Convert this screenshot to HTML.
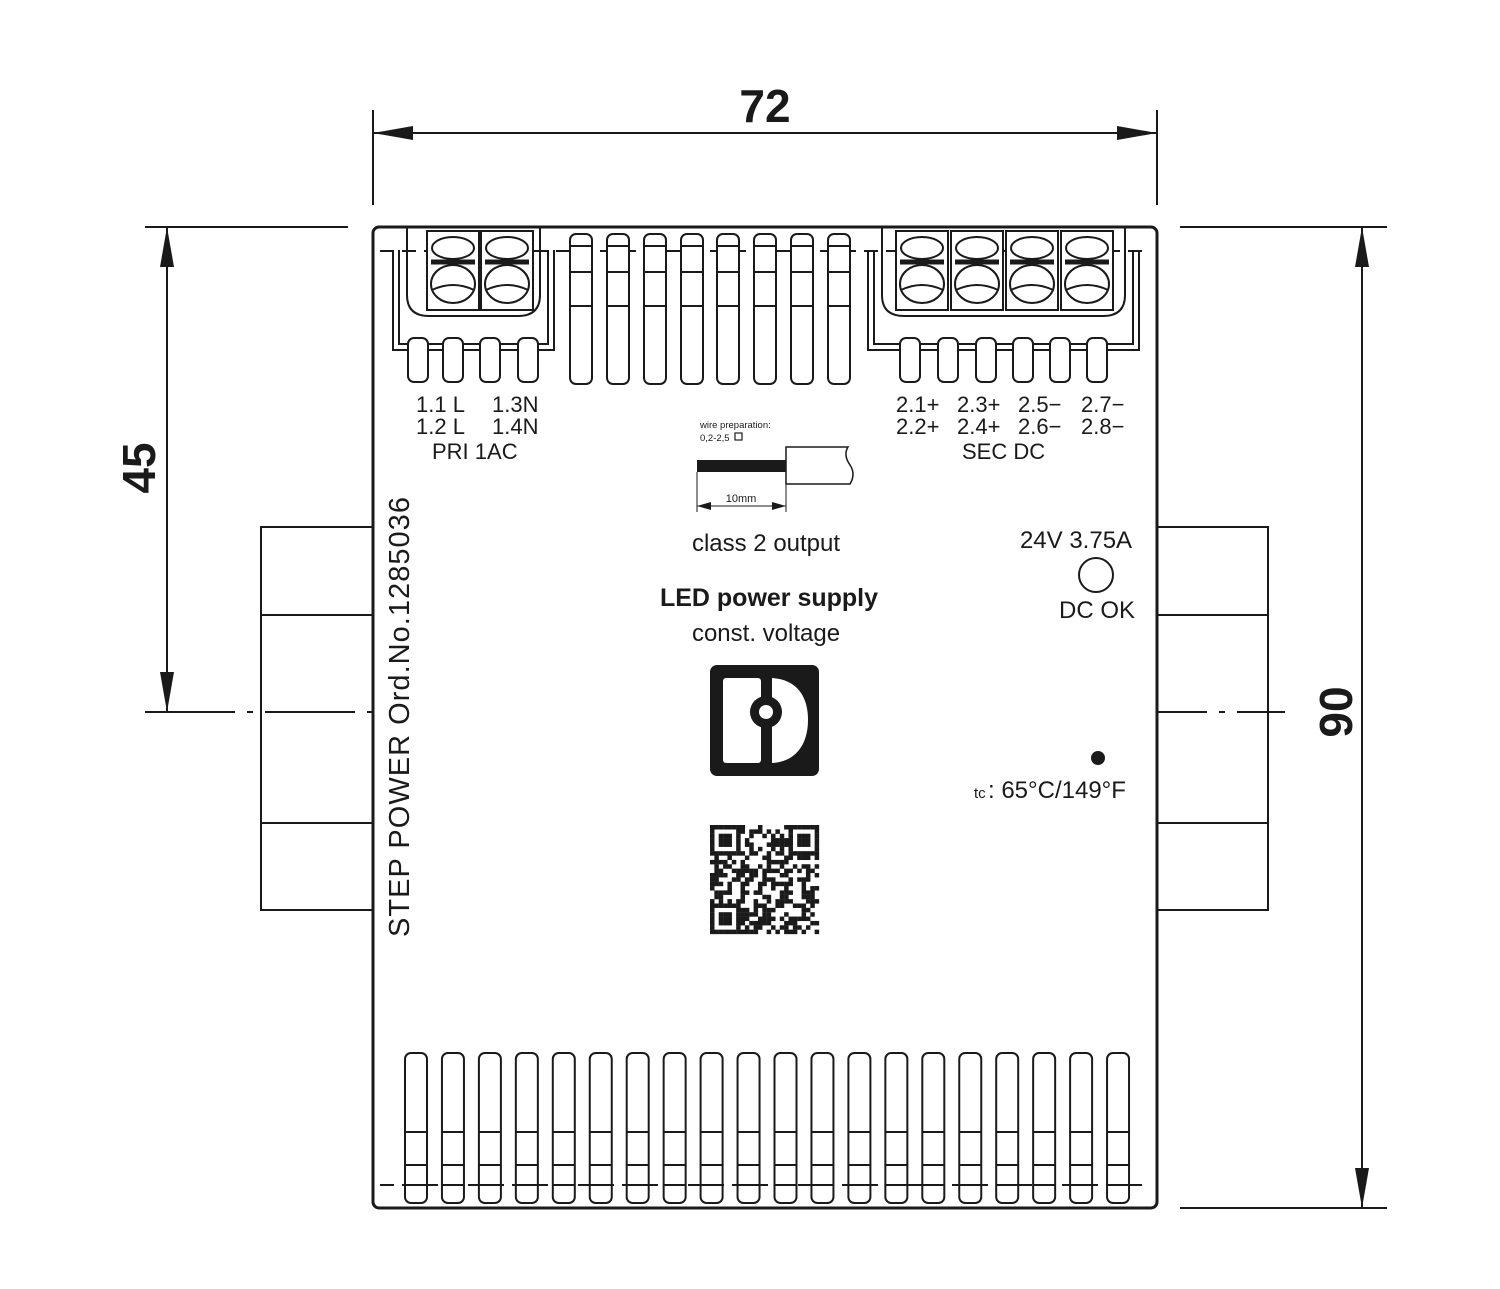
<!DOCTYPE html>
<html><head><meta charset="utf-8"><style>
html,body{margin:0;padding:0;background:#fff}
svg{display:block}
text{font-family:"Liberation Sans",Arial,sans-serif;fill:#1a1a1a}
</style></head><body>
<svg id="s" width="1500" height="1289" viewBox="0 0 1500 1289" xmlns="http://www.w3.org/2000/svg">
<defs>
<marker id="ar" viewBox="0 0 40 14" refX="40" refY="7" markerWidth="40" markerHeight="14" markerUnits="userSpaceOnUse" orient="auto-start-reverse"><path d="M0,0 L40,7 L0,14 Z" fill="#1a1a1a"/></marker>
<marker id="sa" viewBox="0 0 14 8" refX="14" refY="4" markerWidth="14" markerHeight="8" markerUnits="userSpaceOnUse" orient="auto-start-reverse"><path d="M0,0 L14,4 L0,8 Z" fill="#1a1a1a"/></marker>
</defs>
<g stroke="#1a1a1a" fill="none" stroke-width="2">
<line x1="373" y1="110" x2="373" y2="205"/>
<line x1="1157" y1="110" x2="1157" y2="205"/>
<line x1="373" y1="133" x2="1157" y2="133" marker-start="url(#ar)" marker-end="url(#ar)"/>
<line x1="145" y1="227" x2="348" y2="227"/>
<line x1="167" y1="227" x2="167" y2="712" marker-start="url(#ar)" marker-end="url(#ar)"/>
<line x1="1180" y1="227" x2="1387" y2="227"/>
<line x1="1180" y1="1208" x2="1387" y2="1208"/>
<line x1="1362" y1="227" x2="1362" y2="1208" marker-start="url(#ar)" marker-end="url(#ar)"/>
<line x1="145" y1="712" x2="373" y2="712" stroke-dasharray="90,12,6,12"/>
<line x1="1157" y1="712" x2="1285" y2="712" stroke-dasharray="50,12,6,12"/>
<rect x="261" y="527" width="112" height="383"/>
<line x1="261" y1="615" x2="373" y2="615"/><line x1="261" y1="823" x2="373" y2="823"/>
<rect x="1157" y="527" width="111" height="383"/>
<line x1="1157" y1="615" x2="1268" y2="615"/><line x1="1157" y1="823" x2="1268" y2="823"/>
<rect x="373" y="227" width="784" height="981" rx="6" stroke-width="3" fill="#fff"/>
<line x1="380" y1="251" x2="1150" y2="251" stroke-dasharray="14,8"/>
<line x1="380" y1="1185" x2="1150" y2="1185" stroke-dasharray="14,8"/>
<g id="g"></g>
</g>
<rect x="697" y="460" width="89" height="12" fill="#1a1a1a"/>
<path d="M786,447 L848,447 Q843,455 850,465 Q856,474 850,484 L786,484 Z" fill="#fff" stroke="#1a1a1a" stroke-width="1.5"/>
<line x1="697" y1="472" x2="697" y2="512" stroke="#1a1a1a" stroke-width="1"/>
<line x1="786" y1="484" x2="786" y2="512" stroke="#1a1a1a" stroke-width="1"/>
<line x1="697" y1="506" x2="786" y2="506" stroke="#1a1a1a" stroke-width="1" marker-start="url(#sa)" marker-end="url(#sa)"/>
<text x="700" y="428" font-size="9.5">wire preparation:</text>
<text x="700" y="441" font-size="9.5">0,2-2,5</text><rect x="735" y="433" width="7" height="7" fill="none" stroke="#1a1a1a" stroke-width="1.2"/>
<text x="741" y="502" font-size="11" text-anchor="middle">10mm</text>
<text x="765" y="122" font-size="46" font-weight="bold" text-anchor="middle">72</text>
<text transform="translate(155,468) rotate(-90)" font-size="46" font-weight="bold" text-anchor="middle">45</text>
<text transform="translate(1352,712) rotate(-90)" font-size="46" font-weight="bold" text-anchor="middle">90</text>
<g font-size="22">
<text x="416" y="412">1.1 L</text><text x="492" y="412">1.3N</text>
<text x="416" y="434">1.2 L</text><text x="492" y="434">1.4N</text>
<text x="432" y="459">PRI 1AC</text>
<text x="896" y="412">2.1+</text><text x="957" y="412">2.3+</text><text x="1018" y="412">2.5−</text><text x="1081" y="412">2.7−</text>
<text x="896" y="434">2.2+</text><text x="957" y="434">2.4+</text><text x="1018" y="434">2.6−</text><text x="1081" y="434">2.8−</text>
<text x="962" y="459">SEC DC</text>
</g>
<text x="766" y="551" font-size="24" text-anchor="middle">class 2 output</text>
<text x="769" y="606" font-size="25" font-weight="bold" text-anchor="middle">LED power supply</text>
<text x="766" y="641" font-size="24" text-anchor="middle">const. voltage</text>
<text x="1076" y="548" font-size="24" text-anchor="middle">24V 3.75A</text>
<circle cx="1096" cy="575" r="17" fill="none" stroke="#1a1a1a" stroke-width="2"/>
<text x="1097" y="618" font-size="24" text-anchor="middle">DC OK</text>
<circle cx="1098" cy="758" r="7" fill="#1a1a1a"/>
<text x="974" y="798" font-size="15">tc</text><text x="988" y="798" font-size="24">: 65°C/149°F</text>
<text transform="translate(409,937) rotate(-90)" font-size="29" textLength="440" lengthAdjust="spacing">STEP POWER  Ord.No.1285036</text>
<rect x="710" y="665" width="109" height="111" rx="7" fill="#1a1a1a"/>
<rect x="723" y="678" width="38" height="85" rx="3" fill="#fff"/>
<path d="M772,678 C800,680 808,700 808,720 C808,745 795,762 772,763 Z" fill="#fff"/>
<rect x="761" y="675" width="11" height="92" fill="#1a1a1a"/>
<circle cx="766" cy="712" r="16" fill="#1a1a1a"/>
<circle cx="766" cy="712" r="7" fill="#fff"/>
<g id="qr"></g>
</svg>
<script>
var g=document.getElementById('g'),h='';
function slot(cx,y1,y2,lines,w){h+='<rect x="'+(cx-w/2)+'" y="'+y1+'" width="'+w+'" height="'+(y2-y1)+'" rx="6" fill="#fff"/>';lines.forEach(function(l){h+='<line x1="'+(cx-w/2)+'" y1="'+l+'" x2="'+(cx+w/2)+'" y2="'+l+'"/>';});}
[581,618,655,692,728,765,802,839].forEach(function(c){slot(c,234,384,[246,272,306],22);});
for(var i=0;i<20;i++){slot(416+i*36.95,1053,1203,[1132,1165,1185],22);}
function block(x1,x2,cells,tabs){
 h+='<path d="M'+x1+',227 L'+x1+',295 Q'+x1+',316 '+(x1+22)+',316 L'+(x2-22)+',316 Q'+x2+',316 '+x2+',295 L'+x2+',227"/>';
 h+='<path d="M'+(x1-14)+',250 L'+(x1-14)+',350 L'+(x2+14)+',350 L'+(x2+14)+',250"/>';
 h+='<path d="M'+(x1-8)+',250 L'+(x1-8)+',344 L'+(x2+8)+',344 L'+(x2+8)+',250"/>';
 cells.forEach(function(c){h+='<rect x="'+(c-26)+'" y="231" width="52" height="79" fill="#fff"/><ellipse cx="'+c+'" cy="248" rx="21" ry="11" fill="#fff"/><line x1="'+(c-22)+'" y1="262" x2="'+(c+22)+'" y2="262" stroke-width="5"/><ellipse cx="'+c+'" cy="284" rx="22" ry="19" fill="#fff"/><path d="M'+(c-21)+',290 Q'+c+',280 '+(c+21)+',290"/>';});
 tabs.forEach(function(c){slot(c,338,382,[],20);});
}
block(407,540,[453,507],[418,453,490,528]);
block(882,1125,[922,977,1032,1087],[910,948,986,1023,1060,1097]);
g.innerHTML=h;
var q='',r=1;for(var y=0;y<25;y++)for(var x=0;x<25;x++){r=(r*1103515245+12345)%2147483648;var f=(x<7&&y<7)||(x>17&&y<7)||(x<7&&y>17);var on=f?((x%18==0||x%18==6||y%18==0||y%18==6||(x%18>=2&&x%18<=4&&y%18>=2&&y%18<=4))):(r>>16)%2;if(f&&((x==7||y==7)))on=0;if(on)q+='<rect x="'+(710+x*4.36)+'" y="'+(825+y*4.36)+'" width="4.5" height="4.5" fill="#1a1a1a"/>';}
document.getElementById('qr').innerHTML=q;
</script>
</body></html>
